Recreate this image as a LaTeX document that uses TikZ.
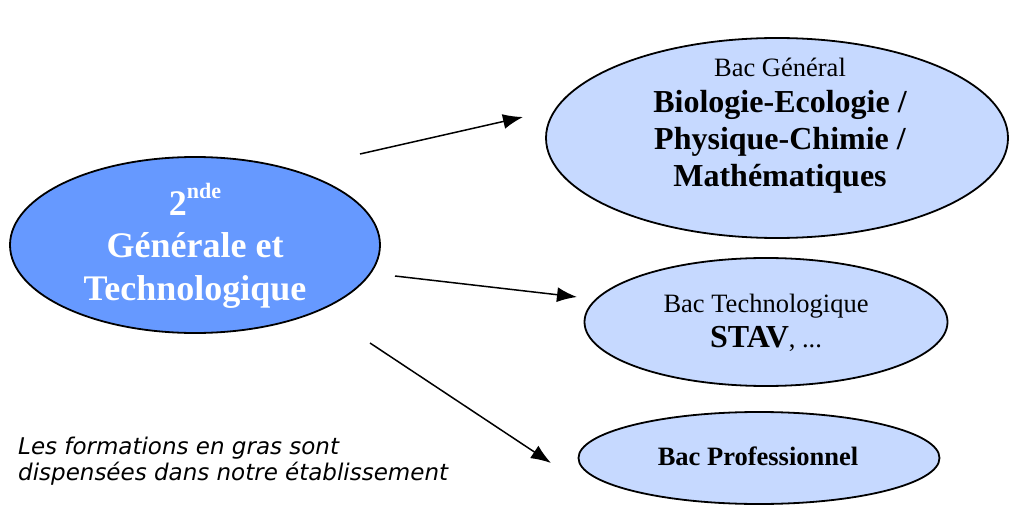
\documentclass[tikz,border=0pt]{standalone}
\usepackage{fontspec}
\setmainfont{Liberation Serif}
\newfontfamily\notefont{DejaVu Sans}
\usetikzlibrary{shapes, arrows.meta}

\definecolor{darkblue}{HTML}{6699FF}
\definecolor{lightblue}{HTML}{C6D9FF}

\begin{document}
\begin{tikzpicture}[x=1pt, y=-1pt,
	bubble/.style={draw, ellipse, line width=1.8pt, fill=lightblue, inner sep=0pt},
	arrow/.style={-{Latex[length=20pt, width=15pt]}, line width=1.5pt}]
	\def \titlefont {\fontsize{36}{36}\selectfont\bfseries}
	\def \specfont {\fontsize{32}{32}\selectfont\bfseries}
	\def \bacfont {\fontsize{26.5}{26.5}\selectfont}
	\def \notesize {\notefont\itshape\fontsize{23}{23}\selectfont}

	\useasboundingbox (0,0) rectangle (1009,505);

	% the four bubbles
	\node[bubble, fill=darkblue, minimum width=370pt, minimum height=176pt] (seconde) at (195,245) {};
	\node[bubble, minimum width=462pt, minimum height=200pt] (bacgen)  at (777,138) {};
	\node[bubble, minimum width=363pt, minimum height=128pt] (bactech) at (766,322) {};
	\node[bubble, minimum width=361pt, minimum height=92pt]  (bacpro)  at (759,458) {};

	% texts
	\node[anchor=base, text=white, font=\titlefont] (deux)   at (195,215)
		{2\raisebox{17pt}{\fontsize{22}{22}\selectfont nde}};
	\node[anchor=base, text=white, font=\titlefont] (gen)    at (195,258) {Générale et};
	\node[anchor=base, text=white, font=\titlefont] (techno) at (195,300) {Technologique};

	\node[anchor=base, font=\bacfont]  (gentitle) at (780,77)  {Bac Général};
	\node[anchor=base, font=\specfont] (genspe1)  at (780,113) {Biologie-Ecologie /};
	\node[anchor=base, font=\specfont] (genspe2)  at (780,150) {Physique-Chimie /};
	\node[anchor=base, font=\specfont] (genspe3)  at (780,187) {Mathématiques};

	\node[anchor=base, font=\bacfont] (techtitle) at (766,312) {Bac Technologique};
	\node[anchor=base, font=\bacfont] (techspe)   at (766,347) {{\specfont STAV}, ...};

	\node[anchor=base, font=\bacfont\bfseries] (protitle) at (758,465) {Bac Professionnel};

	\node[anchor=base west, inner sep=0pt, font=\notesize] (note1) at (18,454)
		{Les formations en gras sont};
	\node[anchor=base west, inner sep=0pt, font=\notesize] (note2) at (18,480)
		{dispensées dans notre établissement};

	% arrows
	\coordinate (from1) at (360,154);
	\coordinate (from2) at (395,276);
	\coordinate (from3) at (370,343);
	\coordinate (to1) at (523,117);
	\coordinate (to2) at (577,297);
	\coordinate (to3) at (551,463);

	\draw[arrow] (from1) -- (to1);
	\draw[arrow] (from2) -- (to2);
	\draw[arrow] (from3) -- (to3);
\end{tikzpicture}
\end{document}
